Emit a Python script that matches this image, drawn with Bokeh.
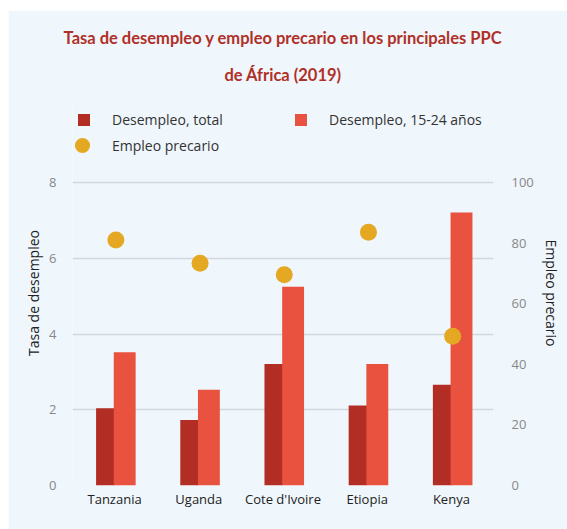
from bokeh.plotting import figure
from bokeh.models import (ColumnDataSource, FactorRange, Range1d, LinearAxis,
                          FixedTicker, Legend, LegendItem, Grid, Title)
from bokeh.transform import dodge
from bokeh.embed import file_html
from bokeh.resources import INLINE

countries = ["Tanzania", "Uganda", "Cote d'Ivoire", "Etiopia", "Kenya"]
desempleo_total = [2.04, 1.73, 3.21, 2.11, 2.66]
desempleo_joven = [3.52, 2.53, 5.25, 3.21, 7.21]
empleo_precario = [81.1, 73.4, 69.6, 83.6, 49.3]
left_ticks = [0, 2, 4, 6, 8]
right_ticks = [0, 20, 40, 60, 80, 100]
title_lines = ["Tasa de desempleo y empleo precario en los principales PPC",
               "de África (2019)"]

BG = "#EFF6FC"
C_TOTAL = "#B22D24"
C_YOUNG = "#E8523F"
C_DOT = "#E5A823"
TITLE_C = "#B03027"

Y_END = 10.17
src = ColumnDataSource(dict(c=countries, t=desempleo_total, j=desempleo_joven,
                            e=empleo_precario))

p = figure(x_range=FactorRange(*countries), y_range=Range1d(0, Y_END),
           width=559, height=519, output_backend="svg", toolbar_location=None,
           background_fill_color=BG, border_fill_color=BG,
           min_border_left=64, min_border_right=64, min_border_top=90,
           min_border_bottom=44, y_axis_location=None)
p.styles = {"margin-left": "8px", "margin-top": "10px"}
p.outline_line_color = None

def style_title(t):
    t.align = "center"
    t.text_color = TITLE_C
    t.text_font = "Lato"
    t.text_font_size = "16.5px"
    t.text_font_style = "bold"
    t.text_line_height = 0.8

p.title.text = title_lines[0]
style_title(p.title)
p.title.standoff = 0
t2 = Title(text=title_lines[1])
style_title(t2)
t2.standoff = 31
p.add_layout(t2, "above")

p.extra_y_ranges = {"pct": Range1d(0, Y_END * 12.5)}

r1 = p.vbar(x=dodge("c", -0.11, range=p.x_range), top="t", width=0.22, source=src,
            fill_color=C_TOTAL, line_color=None)
r2 = p.vbar(x=dodge("c", 0.12, range=p.x_range), top="j", width=0.26, source=src,
            fill_color=C_YOUNG, line_color=None)
r3 = p.scatter(x=dodge("c", 0.015, range=p.x_range), y="e", y_range_name="pct", size=17,
               source=src, fill_color=C_DOT, line_color=None)

la = LinearAxis(ticker=FixedTicker(ticks=left_ticks), axis_label="Tasa de desempleo")
ra = LinearAxis(ticker=FixedTicker(ticks=right_ticks), y_range_name="pct")
for ax in (la, ra):
    ax.axis_line_color = None
    ax.major_tick_line_color = None
    ax.minor_tick_line_color = None
    ax.major_label_text_color = "#888888"
    ax.major_label_text_font = "Open Sans"
    ax.major_label_text_font_size = "13px"
    ax.axis_label_text_font = "Open Sans"
    ax.axis_label_text_font_size = "14px"
    ax.axis_label_text_font_style = "normal"
    ax.axis_label_text_color = "#222222"
la.major_label_standoff = 10
la.axis_label_standoff = 3
ra.major_label_standoff = 12
p.add_layout(la, "left")
p.add_layout(ra, "right")

p.add_layout(Title(text="Empleo precario", align="center", standoff=10,
                   text_font="Open Sans", text_font_size="14px",
                   text_font_style="normal", text_color="#222222"), "right")

p.xaxis.axis_line_color = None
p.xaxis.major_tick_line_color = None
p.xaxis.major_label_text_font = "Open Sans"
p.xaxis.major_label_text_font_size = "13px"
p.xaxis.major_label_text_color = "#222222"
p.xaxis.major_label_standoff = -2

p.xgrid.grid_line_color = None
p.ygrid.grid_line_color = None
g = Grid(dimension=1, ticker=la.ticker, grid_line_color="#D3D8DD", grid_line_width=1.5)
p.add_layout(g)

def style_legend(lg):
    lg.background_fill_alpha = 0
    lg.border_line_color = None
    lg.label_text_font = "Open Sans"
    lg.label_text_font_size = "14px"
    lg.label_text_color = "#333333"
    lg.padding = 0
    lg.margin = 0

legA = Legend(items=[LegendItem(label="Desempleo, total", renderers=[r1])],
              location=(4, 356))
legC = Legend(items=[LegendItem(label="Desempleo, 15-24 años", renderers=[r2])],
              location=(221, 356))
for lg in (legA, legC):
    style_legend(lg)
    lg.glyph_width = 15
    lg.glyph_height = 15
    lg.label_standoff = 21
    p.add_layout(lg)

legB = Legend(items=[LegendItem(label="Empleo precario", renderers=[r3])],
              location=(-9, 321))
style_legend(legB)
legB.glyph_width = 38
legB.glyph_height = 38
legB.label_standoff = 11
p.add_layout(legB)

open("out.html", "w").write(file_html(p, INLINE))
